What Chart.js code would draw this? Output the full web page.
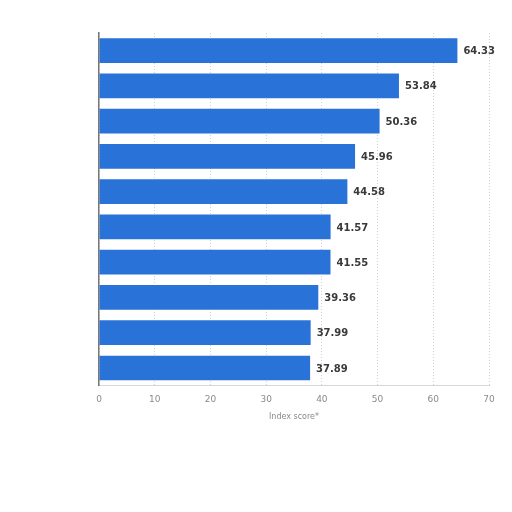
<!DOCTYPE html>
<html><head><meta charset="utf-8">
<script src="https://cdn.jsdelivr.net/npm/chart.js@4.4.1/dist/chart.umd.min.js"></script>
<style>html,body{margin:0;padding:0;background:#fff;}#wrap{width:512px;height:512px;}</style>
</head><body><div id="wrap"><canvas id="c" width="512" height="512"></canvas></div>
<script>
const categories = ["1","2","3","4","5","6","7","8","9","10"];
const values = [64.33, 53.84, 50.36, 45.96, 44.58, 41.57, 41.55, 39.36, 37.99, 37.89];
const tickValues = [0, 10, 20, 30, 40, 50, 60, 70];
const axisTitle = "Index score*";

const labelPlugin = {
  id: 'barLabels',
  afterDatasetsDraw(chart) {
    const ctx = chart.ctx;
    const meta = chart.getDatasetMeta(0);
    ctx.save();
    ctx.font = 'bold 10px "DejaVu Sans", sans-serif';
    ctx.fillStyle = '#3a3a3a';
    ctx.textBaseline = 'middle';
    ctx.textAlign = 'left';
    meta.data.forEach((el, i) => {
      ctx.fillText(values[i].toFixed(2), el.x + 6, el.y + 1);
    });
    ctx.restore();
  }
};

new Chart(document.getElementById('c'), {
  type: 'bar',
  data: {
    labels: categories,
    datasets: [{
      data: values,
      backgroundColor: '#2872d8',
      borderWidth: 0,
      categoryPercentage: 1,
      barPercentage: 0.70
    }]
  },
  options: {
    indexAxis: 'y',
    responsive: false,
    animation: false,
    devicePixelRatio: 1,
    layout: { padding: { left: 91, right: 23, top: 33, bottom: 90 } },
    plugins: { legend: { display: false }, tooltip: { enabled: false } },
    scales: {
      x: {
        min: 0, max: 70,
        afterBuildTicks(axis) { axis.ticks = tickValues.map(v => ({ value: v })); },
        grid: { color: '#d0d0d0', lineWidth: 1, drawTicks: false },
        border: { display: true, color: '#d8d8d8', dash: [1, 2] },
        ticks: { color: '#8a8a8a', font: { size: 9, family: '"DejaVu Sans", sans-serif' }, padding: 9 },
        title: { display: true, text: axisTitle, color: '#8a8a8a', font: { size: 8, family: '"DejaVu Sans", sans-serif' }, padding: { top: -2, bottom: 0 } }
      },
      y: {
        grid: { display: false },
        border: { display: true, color: '#777', width: 1.5 },
        ticks: { display: false }
      }
    }
  },
  plugins: [labelPlugin]
});
</script></body></html>
